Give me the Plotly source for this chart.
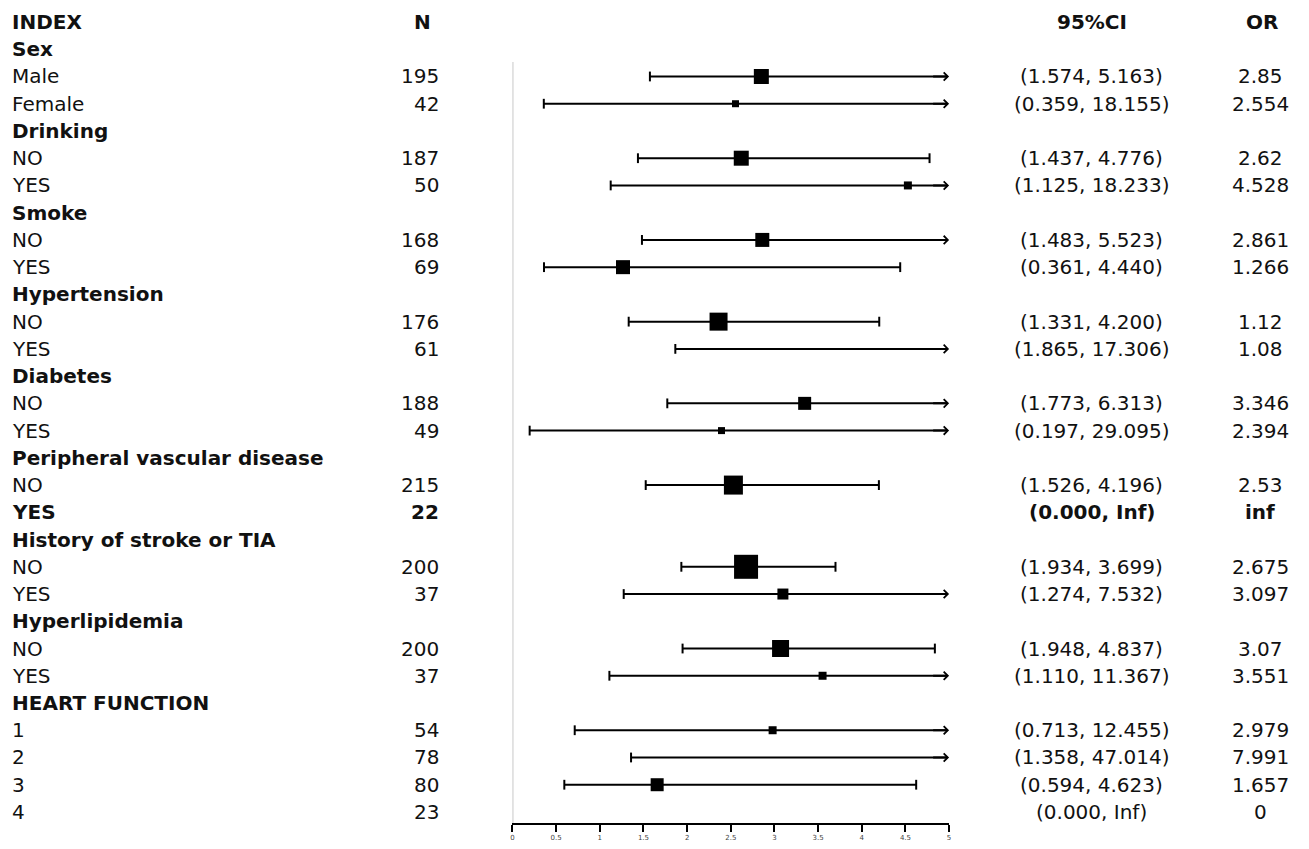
import plotly.graph_objects as go

# ---------------- data ----------------
headers = ["INDEX", "N", "95%CI", "OR"]
labels = ["Sex", "Male", "Female", "Drinking", "NO", "YES", "Smoke", "NO", "YES",
          "Hypertension", "NO", "YES", "Diabetes", "NO", "YES",
          "Peripheral vascular disease", "NO", "YES", "History of stroke or TIA", "NO", "YES",
          "Hyperlipidemia", "NO", "YES", "HEART FUNCTION", "1", "2", "3", "4"]
n_vals = ["", "195", "42", "", "187", "50", "", "168", "69", "", "176", "61", "", "188", "49",
          "", "215", "22", "", "200", "37", "", "200", "37", "", "54", "78", "80", "23"]
ci_text = ["", "(1.574, 5.163)", "(0.359, 18.155)", "", "(1.437, 4.776)", "(1.125, 18.233)",
           "", "(1.483, 5.523)", "(0.361, 4.440)", "", "(1.331, 4.200)", "(1.865, 17.306)",
           "", "(1.773, 6.313)", "(0.197, 29.095)", "", "(1.526, 4.196)", "(0.000, Inf)",
           "", "(1.934, 3.699)", "(1.274, 7.532)", "", "(1.948, 4.837)", "(1.110, 11.367)",
           "", "(0.713, 12.455)", "(1.358, 47.014)", "(0.594, 4.623)", "(0.000, Inf)"]
or_text = ["", "2.85", "2.554", "", "2.62", "4.528", "", "2.861", "1.266", "", "1.12", "1.08",
           "", "3.346", "2.394", "", "2.53", "inf", "", "2.675", "3.097", "", "3.07", "3.551",
           "", "2.979", "7.991", "1.657", "0"]
ci_low = [None, 1.574, 0.359, None, 1.437, 1.125, None, 1.483, 0.361, None, 1.331, 1.865,
          None, 1.773, 0.197, None, 1.526, None, None, 1.934, 1.274, None, 1.948, 1.110,
          None, 0.713, 1.358, 0.594, None]
ci_high = [None, 5.163, 18.155, None, 4.776, 18.233, None, 5.523, 4.440, None, 4.200, 17.306,
           None, 6.313, 29.095, None, 4.196, None, None, 3.699, 7.532, None, 4.837, 11.367,
           None, 12.455, 47.014, 4.623, None]
# box positions as drawn in the picture
box_est = [None, 2.85, 2.554, None, 2.62, 4.528, None, 2.861, 1.266, None, 2.36, None,
           None, 3.346, 2.394, None, 2.53, None, None, 2.675, 3.097, None, 3.07, 3.551,
           None, 2.979, None, 1.657, None]
box_weight = [0, 15, 7, 0, 15, 8, 0, 14, 14, 0, 18, 0, 0, 13, 7, 0, 19, 0, 0, 24, 11, 0, 17, 8,
              0, 8, 0, 13, 0]
bold_rows = {0, 3, 6, 9, 12, 15, 17, 18, 21, 24}
x_ticks = [0, 0.5, 1, 1.5, 2, 2.5, 3, 3.5, 4, 4.5, 5]

# ---------------- layout constants ----------------
OFF = 8                      # page body margin
W, H = 1309 - OFF, 849 - OFF
X_MAX = 5
FONT = "DejaVu Sans"
FS = 20
ROW = 27.24
TOP = 22 - OFF               # y of header row centre inside figure
AXIS_Y = 823 - OFF           # axis line inside figure
B_MARGIN = H - AXIS_Y

fig = go.Figure()

rows = [i + 1 for i in range(len(labels))]
y_bottom = (AXIS_Y - TOP) / ROW
y_top = -TOP / ROW

# gray reference line at 0
fig.add_trace(go.Scatter(x=[0, 0], y=[1.47, y_bottom], mode="lines",
                         line=dict(color="#c8c8c8", width=2), hoverinfo="skip",
                         showlegend=False, cliponaxis=False))

# CI lines
lx, ly, cx, cy = [], [], [], []
arrows = []
for r, lo, hi in zip(rows, ci_low, ci_high):
    if lo is None:
        continue
    lx += [lo, min(hi, X_MAX) - (0.02 if hi > X_MAX else 0), None]
    ly += [r, r, None]
    cx.append(lo); cy.append(r)
    if hi <= X_MAX:
        cx.append(hi); cy.append(r)
    else:
        arrows.append((r, lo))
fig.add_trace(go.Scatter(x=lx, y=ly, mode="lines", line=dict(color="black", width=2),
                         hoverinfo="skip", showlegend=False, cliponaxis=False))
fig.add_trace(go.Scatter(x=cx, y=cy, mode="markers",
                         marker=dict(symbol="line-ns", size=7, opacity=1,
                                     line=dict(color="black", width=2)),
                         hoverinfo="skip", showlegend=False, cliponaxis=False))

# boxes
bx = [e for e in box_est if e is not None]
by = [r for r, e in zip(rows, box_est) if e is not None]
bs = [s for s, e in zip(box_weight, box_est) if e is not None]
fig.add_trace(go.Scatter(x=bx, y=by, mode="markers",
                         marker=dict(symbol="square", size=bs, color="black", opacity=1,
                                     line=dict(width=0)),
                         hoverinfo="skip", showlegend=False, cliponaxis=False))

annotations = []
for r, lo in arrows:
    annotations.append(dict(x=X_MAX, y=r, ax=X_MAX - 0.2, ay=r, xref="x", yref="y",
                            axref="x", ayref="y", text="", showarrow=True, arrowhead=4,
                            arrowsize=0.8, arrowwidth=2, arrowcolor="black", standoff=0))


def txt(text, xpx, y, anchor, bold):
    if bold:
        text = "<b>" + text + "</b>"
    return dict(x=(xpx - OFF) / W, y=y, xref="paper", yref="y", text=text, showarrow=False,
                xanchor=anchor, yanchor="middle",
                font=dict(family=FONT, size=FS, color="#111111"))


# header row
annotations.append(txt(headers[0], 8, 0, "left", True))
annotations.append(txt(headers[1], 422, 0, "center", True))
annotations.append(txt(headers[2], 1093, 0, "center", True))
annotations.append(txt(headers[3], 1264, 0, "center", True))

for i, r in enumerate(rows):
    b = i in bold_rows
    annotations.append(txt(labels[i], 8, r, "left", b))
    if n_vals[i]:
        annotations.append(txt(n_vals[i], 440, r, "right", b))
    if ci_text[i]:
        annotations.append(txt(ci_text[i], 1093, r, "center", b))
    if or_text[i]:
        annotations.append(txt(or_text[i], 1262, r, "center", b))

fig.update_layout(
    width=W, height=H,
    margin=dict(l=0, r=0, t=0, b=B_MARGIN),
    paper_bgcolor="white", plot_bgcolor="white",
    showlegend=False,
    annotations=annotations,
    xaxis=dict(domain=[(512 - OFF) / W, (950 - OFF) / W], range=[0, X_MAX], showgrid=False,
               zeroline=False, showline=True, linecolor="black", linewidth=2,
               ticks="outside", ticklen=7, tickwidth=2, tickcolor="black", tickvals=x_ticks,
               tickfont=dict(family=FONT, size=7, color="#444444"), fixedrange=True),
    yaxis=dict(range=[y_bottom, y_top], showgrid=False, zeroline=False, showline=False,
               showticklabels=False, ticks="", fixedrange=True),
)

fig.write_html("out.html")
